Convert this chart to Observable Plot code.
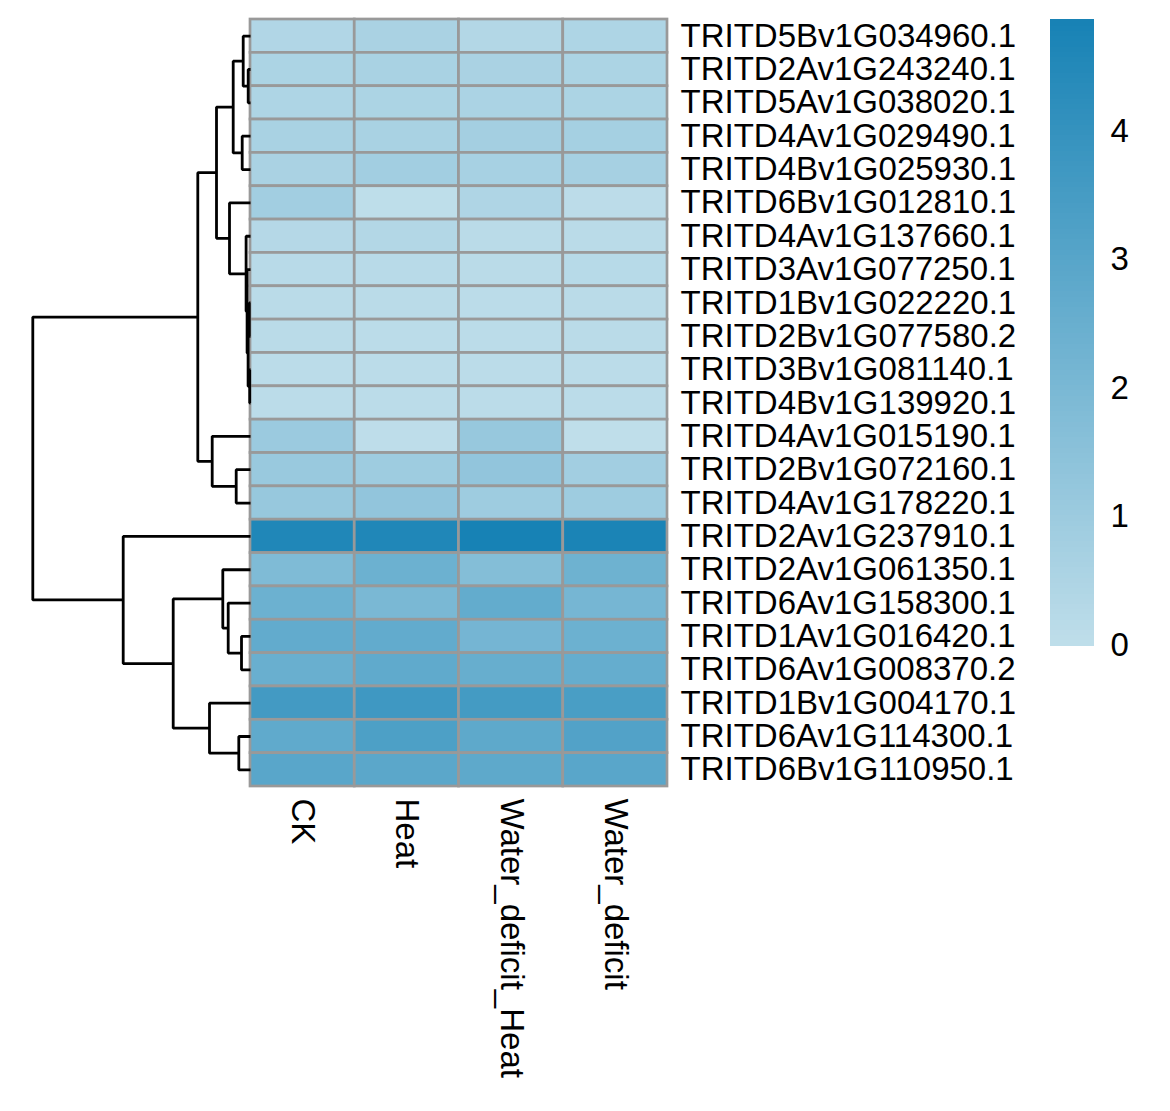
<!DOCTYPE html>
<html><head><meta charset="utf-8">
<script src="https://cdn.jsdelivr.net/npm/d3@7"></script>
<script src="https://cdn.jsdelivr.net/npm/@observablehq/plot@0.6"></script>
<style>
body{margin:0;background:#fff;}
#chart{position:relative;width:1170px;height:1111px;background:#fff;}
#chart svg{position:absolute;left:0;top:0;}
</style></head><body><div id="chart"></div>
<script>
const genes = ["TRITD5Bv1G034960.1","TRITD2Av1G243240.1","TRITD5Av1G038020.1","TRITD4Av1G029490.1","TRITD4Bv1G025930.1","TRITD6Bv1G012810.1","TRITD4Av1G137660.1","TRITD3Av1G077250.1","TRITD1Bv1G022220.1","TRITD2Bv1G077580.2","TRITD3Bv1G081140.1","TRITD4Bv1G139920.1","TRITD4Av1G015190.1","TRITD2Bv1G072160.1","TRITD4Av1G178220.1","TRITD2Av1G237910.1","TRITD2Av1G061350.1","TRITD6Av1G158300.1","TRITD1Av1G016420.1","TRITD6Av1G008370.2","TRITD1Bv1G004170.1","TRITD6Av1G114300.1","TRITD6Bv1G110950.1"];
const conditions = ["CK","Heat","Water_deficit_Heat","Water_deficit"];
const valuesCK   = [0.40,0.55,0.48,0.65,0.62,0.85,0.30,0.20,0.15,0.15,0.12,0.12,1.05,1.10,1.15,4.60,1.85,2.40,2.70,2.50,3.60,2.75,2.95];
const valuesHeat = [0.62,0.65,0.55,0.65,0.85,0.02,0.35,0.20,0.15,0.12,0.12,0.12,0.03,0.95,1.30,4.60,2.40,2.00,2.70,2.75,3.70,3.30,2.90];
const valuesWDH  = [0.35,0.62,0.58,0.78,0.68,0.45,0.15,0.15,0.12,0.12,0.12,0.12,1.15,1.30,0.95,4.86,1.70,2.65,2.15,2.55,3.55,2.80,2.80];
const valuesWD   = [0.50,0.55,0.55,0.75,0.72,0.10,0.15,0.22,0.15,0.15,0.12,0.12,0.00,0.85,0.95,4.75,2.35,2.10,2.40,2.60,3.40,3.15,2.95];
// hclust-style merges: negative = leaf (row index+1), positive = earlier merge (1-based)
const mergeLeft   = [-2,-1,-4, 2,-11,-9, 6,-8,-7,-6, 4,-14,-13,11,-19,-18,-17,-22,-21,17,-16,14];
const mergeRight  = [-3, 1,-5, 3,-12,-10,5, 7, 8, 9,10,-15, 12,13,-20, 15, 16,-23, 18,19, 20,21];
const mergeHeight = [2.3,7.3,8.3,17.3,0.8,1.2,2.4,3.4,4.4,21,34,14.3,38.3,52.7,9,22.3,27.7,11.7,41,77.3,127.3,217.7];
const legendTicks = [0,1,2,3,4];

const colLo = "#bfdeea", colHi = "#1782b5";
const FONT = "Liberation Sans, Arial, Helvetica, sans-serif";

const cols = [valuesCK, valuesHeat, valuesWDH, valuesWD];
const cells = [];
genes.forEach((g, i) => conditions.forEach((c, j) => cells.push({gene: g, cond: c, value: cols[j][i]})));
const allVals = cells.map(d => d.value);
const vMin = d3.min(allVals), vMax = d3.max(allVals);
const colorScale = {type: "linear", domain: [vMin, vMax], range: [colLo, colHi], interpolate: "rgb"};

const W = 1170, H = 1111;
const hmTop = 19, hmBottom = 786, hmLeft = 250, hmRight = 667;
const baseStyle = {background: "transparent", overflow: "visible", fontFamily: FONT};

// Dendrogram
const nodeY = [], nodeH = [];
const childPos = k => k < 0 ? {y: -k - 1 + 0.5, h: 0} : {y: nodeY[k - 1], h: nodeH[k - 1]};
const dendro = [];
mergeLeft.forEach((a, i) => {
  const A = childPos(a), B = childPos(mergeRight[i]), h = mergeHeight[i];
  nodeY[i] = (A.y + B.y) / 2; nodeH[i] = h;
  dendro.push({id: i, h: A.h, y: A.y}, {id: i, h: h, y: A.y}, {id: i, h: h, y: B.y}, {id: i, h: B.h, y: B.y});
});
const dendroPlot = Plot.plot({
  width: W, height: H,
  marginLeft: 32.3, marginRight: W - hmLeft, marginTop: hmTop, marginBottom: H - hmBottom,
  x: {domain: [d3.max(mergeHeight), 0], axis: null},
  y: {domain: [genes.length, 0], axis: null},
  style: baseStyle,
  marks: [
    Plot.line(dendro, {x: "h", y: "y", z: "id", stroke: "black", strokeWidth: 2.8, strokeLinejoin: "miter", strokeLinecap: "butt", curve: "linear"})
  ]
});

// Heatmap
const heatPlot = Plot.plot({
  width: W, height: H,
  marginLeft: hmLeft, marginRight: W - hmRight, marginTop: hmTop, marginBottom: H - hmBottom,
  x: {domain: conditions, padding: 0, round: false, label: null},
  y: {domain: genes, padding: 0, round: false, label: null},
  color: colorScale,
  style: baseStyle,
  marks: [
    Plot.cell(cells, {x: "cond", y: "gene", fill: "value", stroke: "#999999", strokeWidth: 2.7, inset: 0}),
    Plot.axisY({anchor: "right", tickSize: 0, tickPadding: 13, fontSize: 33, label: null, fill: "black"}),
    Plot.axisX({anchor: "bottom", tickSize: 0, tickPadding: 12, tickRotate: 90, textAnchor: "start", fontSize: 33, label: null, fill: "black"})
  ]
});

// Legend
const nSteps = 120;
const step = (vMax - vMin) / nSteps;
const legendData = d3.range(nSteps).map(k => ({v1: vMin + k * step, v2: vMin + (k + 1) * step, v: vMin + (k + 0.5) * step}));
const legendPlot = Plot.plot({
  width: W, height: H,
  marginLeft: 1051, marginRight: W - 1093, marginTop: 20, marginBottom: H - 645,
  x: {domain: [0, 1], axis: null},
  y: {domain: [vMin, vMax], label: null},
  color: colorScale,
  style: baseStyle,
  marks: [
    Plot.rect(legendData, {x1: 0, x2: 1, y1: "v1", y2: "v2", fill: "v", stroke: "v", strokeWidth: 1.2, shapeRendering: "crispEdges"}),
    Plot.axisY({anchor: "right", ticks: legendTicks, tickFormat: d3.format("d"), tickSize: 0, tickPadding: 17, fontSize: 33, label: null, fill: "black"})
  ]
});

const chart = document.getElementById("chart");
chart.append(heatPlot, legendPlot, dendroPlot);
</script></body></html>
